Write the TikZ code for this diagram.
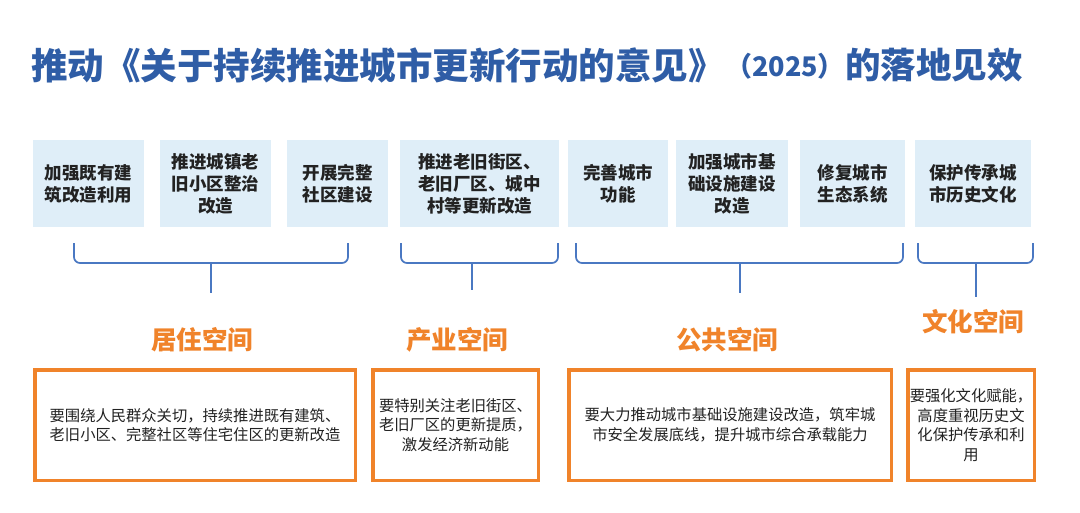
\documentclass[tikz,border=0pt]{standalone}
\usepackage{fontspec}
\setmainfont{Noto Sans CJK SC}
\definecolor{titleblue}{HTML}{2F5DA6}
\definecolor{bracecol}{HTML}{4A78C2}
\definecolor{boxfill}{HTML}{DFEEF8}
\definecolor{orng}{HTML}{F0832A}
\definecolor{txt}{HTML}{222222}
\tikzset{
  titletext/.style={text=titleblue, font=\bfseries\fontsize{35.5}{40}\selectfont, inner sep=0pt},
  topbox/.style={fill=boxfill, draw=none, minimum height=87pt, align=center, inner sep=2pt,
    font=\bfseries\fontsize{17.5}{22}\selectfont, text=txt},
  catlabel/.style={text=orng, font=\bfseries\fontsize{25.5}{30}\selectfont, inner sep=0pt},
  descbox/.style={draw=orng, line width=3.5pt, fill=white, minimum height=110.5pt, align=center,
    inner sep=1pt, font=\fontsize{15.3}{19.5}\selectfont, text=txt},
  bracepath/.style={draw=bracecol, line width=1.7pt, rounded corners=6pt},
}
\begin{document}
\begin{tikzpicture}[x=1pt,y=-1pt]
\useasboundingbox[fill=white] (0,0) rectangle (1080,512);
% title
\node[titletext, anchor=west, font=\bfseries\fontsize{36.5}{40}\selectfont] (t1) at (31,65) {推动《关于持续推进城市更新行动的意见》};
\node[titletext, font=\bfseries\fontsize{27}{30}\selectfont] (t2) at (785,66) {（2025）};
\node[titletext, anchor=west] (t3) at (845,65) {的落地见效};
% top boxes
\node[topbox, minimum width=111pt] (b1) at (88.5,183.5) {加强既有建\\筑改造利用};
\node[topbox, minimum width=111pt] (b2) at (215.5,183.5) {推进城镇老\\旧小区整治\\改造};
\node[topbox, minimum width=101pt] (b3) at (337.5,183.5) {开展完整\\社区建设};
\node[topbox, minimum width=159pt] (b4) at (479.5,183.5) {推进老旧街区、\\老旧厂区、城中\\村等更新改造};
\node[topbox, minimum width=100pt] (b5) at (618,183.5) {完善城市\\功能};
\node[topbox, minimum width=112pt] (b6) at (732,183.5) {加强城市基\\础设施建设\\改造};
\node[topbox, minimum width=105pt] (b7) at (852.5,183.5) {修复城市\\生态系统};
\node[topbox, minimum width=116pt] (b8) at (973,183.5) {保护传承城\\市历史文化};
% brace coordinates
\coordinate (l1) at (74,243);  \coordinate (r1) at (348,243);  \coordinate (m1) at (211,263); \coordinate (s1) at (211,293);
\coordinate (l2) at (401,243); \coordinate (r2) at (558,243);  \coordinate (m2) at (472,263); \coordinate (s2) at (472,290);
\coordinate (l3) at (576,243); \coordinate (r3) at (903,243);  \coordinate (m3) at (740,263); \coordinate (s3) at (740,293);
\coordinate (l4) at (918,243); \coordinate (r4) at (1033,243); \coordinate (m4) at (976,263); \coordinate (s4) at (976,297);
\foreach \i in {1,2,3,4}{
  \draw[bracepath] (l\i) |- (m\i) -| (r\i);
  \draw[draw=bracecol, line width=1.7pt] (m\i) -- (s\i);
}
% category labels
\node[catlabel] (c1) at (202,340) {居住空间};
\node[catlabel] (c2) at (457,340) {产业空间};
\node[catlabel] (c3) at (727,340) {公共空间};
\node[catlabel] (c4) at (973,322) {文化空间};
% description boxes
\node[descbox, minimum width=320.5pt] (d1) at (195,425) {要围绕人民群众关切，持续推进既有建筑、\\老旧小区、完整社区等住宅住区的更新改造};
\node[descbox, minimum width=165.5pt] (d2) at (455.5,425) {要特别关注老旧街区、\\老旧厂区的更新提质，\\激发经济新动能};
\node[descbox, minimum width=322.5pt] (d3) at (730,425) {要大力推动城市基础设施建设改造，筑牢城\\市安全发展底线，提升城市综合承载能力};
\node[descbox, minimum width=126.5pt] (d4) at (971,425) {要强化文化赋能，\\高度重视历史文\\化保护传承和利\\用};
\end{tikzpicture}
\end{document}
